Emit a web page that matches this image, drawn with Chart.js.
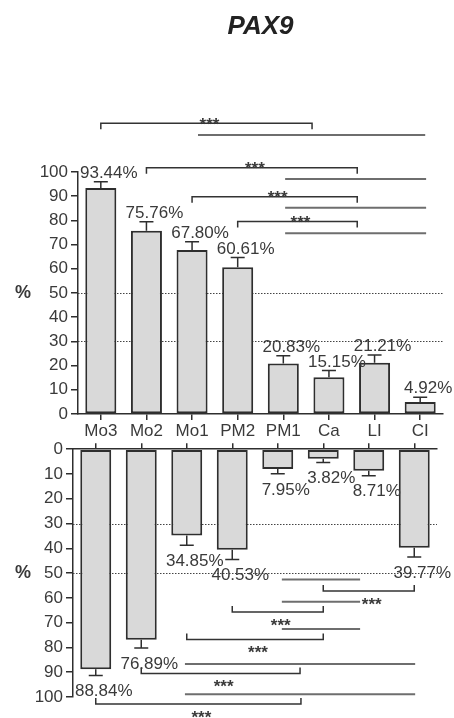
<!DOCTYPE html>
<html>
<head>
<meta charset="utf-8">
<script src="https://cdn.jsdelivr.net/npm/chart.js@4.4.1/dist/chart.umd.min.js"></script>
<style>
  body { margin: 0; background: #fff; }
  .wrap { position: relative; width: 454px; height: 718px; }
  #topChart { position: absolute; left: 0; top: 0; }
  #bottomChart { position: absolute; left: 0; top: 436px; }
</style>
</head>
<body>
<div class="wrap">
  <canvas id="topChart" width="454" height="440"></canvas>
  <canvas id="bottomChart" width="454" height="282"></canvas>
</div>
<script>
// data
const categories = ["Mo3", "Mo2", "Mo1", "PM2", "PM1", "Ca", "LI", "CI"];
const yTicks = [0, 10, 20, 30, 40, 50, 60, 70, 80, 90, 100];

const topValues = [93.44, 75.76, 67.80, 60.61, 20.83, 15.15, 21.21, 4.92];
const topErrors = [2.5, 3.7, 3.4, 4.1, 3.2, 2.8, 3.2, 2.0];
const bottomValues = [88.84, 76.89, 34.85, 40.53, 7.95, 3.82, 8.71, 39.77];
const bottomErrors = [2.5, 3.3, 3.9, 4.0, 2.0, 1.5, 2.0, 3.7];

// significance brackets: category index from / to, level in %
const topSigFrom = [0, 1, 2, 3];
const topSigTo = [4.63, 5.62, 5.62, 5.62];
const topSigY = [120.1, 101.8, 89.8, 79.5];
const topGroupFrom = [2.13, 4.04, 4.04, 4.04];
const topGroupTo = [7.11, 7.13, 7.13, 7.13];
const topGroupY = [115.3, 97.1, 85.2, 74.7];

const bottomSigFrom = [5, 3, 2, 1, 0];
const bottomSigTo = [7, 5, 5, 4.49, 4.51];
const bottomSigY = [57.2, 65.7, 76.8, 90.5, 102.8];
const bottomGroupFrom = [4.09, 4.09, 4.09, 1.96, 1.96];
const bottomGroupTo = [5.81, 5.81, 5.81, 7.02, 7.02];
const bottomGroupY = [52.6, 61.6, 72.6, 86.7, 98.9];

const dottedLevels = [30, 50];

const FONT = "'Liberation Sans', Arial, sans-serif";
const TEXT = "#3a3a3a";
const AXIS = "#2e2e2e";

function makeDecor(values, errors, sig, groups, flip) {
    return {
        id: "decor",
        beforeDatasetsDraw(chart) {
            const { ctx, chartArea, scales } = chart;
            ctx.save();
            ctx.strokeStyle = "#444";
            ctx.lineWidth = 1;
            ctx.setLineDash([1.5, 1.5]);
            dottedLevels.forEach((lv) => {
                const y = Math.round(scales.y.getPixelForValue(lv)) + 0.5;
                ctx.beginPath();
                ctx.moveTo(chartArea.left, y);
                ctx.lineTo(chartArea.right, y);
                ctx.stroke();
            });
            ctx.restore();
        },
        afterDatasetsDraw(chart) {
            const { ctx, scales } = chart;
            const x = scales.x, y = scales.y;
            ctx.save();

            // error bars, one-sided
            ctx.strokeStyle = AXIS;
            ctx.lineWidth = 1.5;
            values.forEach((v, i) => {
                const cx = x.getPixelForValue(i);
                const y0 = y.getPixelForValue(v);
                const y1 = y.getPixelForValue(v + errors[i]);
                ctx.beginPath();
                ctx.moveTo(cx, y0);
                ctx.lineTo(cx, y1);
                ctx.moveTo(cx - 7, y1);
                ctx.lineTo(cx + 7, y1);
                ctx.stroke();
            });

            // value labels
            ctx.fillStyle = TEXT;
            ctx.font = "17px " + FONT;
            ctx.textAlign = "center";
            ctx.textBaseline = "middle";
            values.forEach((v, i) => {
                const cx = x.getPixelForValue(i) + 8;
                const y1 = y.getPixelForValue(v + errors[i]);
                ctx.fillText(v.toFixed(2) + "%", cx, flip ? y1 + 16 : y1 - 8.5);
            });

            // "%" axis title at mid scale
            ctx.font = "bold 18px " + FONT;
            ctx.fillText("%", 23, y.getPixelForValue(50));

            // group lines
            ctx.strokeStyle = "#6e6e6e";
            ctx.lineWidth = 2;
            groups.from.forEach((f, k) => {
                const yy = y.getPixelForValue(groups.y[k]);
                ctx.beginPath();
                ctx.moveTo(x.getPixelForValue(f), yy);
                ctx.lineTo(x.getPixelForValue(groups.to[k]), yy);
                ctx.stroke();
            });

            // brackets with stars
            ctx.strokeStyle = "#333";
            ctx.lineWidth = 1.5;
            ctx.font = "bold 17px " + FONT;
            sig.from.forEach((f, k) => {
                const yy = y.getPixelForValue(sig.y[k]);
                const xa = x.getPixelForValue(f);
                const xb = x.getPixelForValue(sig.to[k]);
                const tick = flip ? -6 : 6;
                ctx.beginPath();
                ctx.moveTo(xa, yy + tick);
                ctx.lineTo(xa, yy);
                ctx.lineTo(xb, yy);
                ctx.lineTo(xb, yy + tick);
                ctx.stroke();
                ctx.fillText("***", (xa + xb) / 2 + 3, flip ? yy + 14 : yy + 2);
            });
            ctx.restore();
        }
    };
}

function makeChart(id, values, opts) {
    return new Chart(document.getElementById(id), {
        type: "bar",
        data: {
            labels: categories,
            datasets: [{
                data: values,
                backgroundColor: "#d9d9d9",
                borderColor: AXIS,
                borderWidth: 2,
                borderSkipped: false,
                barPercentage: 0.68,
                categoryPercentage: 1
            }]
        },
        options: {
            responsive: false,
            animation: false,
            layout: { padding: opts.padding },
            plugins: {
                legend: { display: false },
                tooltip: { enabled: false },
                title: opts.title
            },
            scales: {
                x: {
                    position: opts.xPos,
                    offset: true,
                    grid: { offset: false, drawOnChartArea: false, tickLength: 6, color: AXIS, lineWidth: 1.5 },
                    border: { display: true, color: AXIS, width: 1.5 },
                    ticks: { display: opts.xLabels, color: TEXT, font: { family: FONT, size: 17 }, padding: 1, maxRotation: 0 },
                    afterFit: (s) => { s.height = opts.xHeight; }
                },
                y: {
                    min: 0,
                    max: 100,
                    reverse: opts.reverse,
                    afterBuildTicks: (s) => { s.ticks = yTicks.map((v) => ({ value: v })); },
                    grid: { drawOnChartArea: false, tickLength: 7, color: AXIS, lineWidth: 1.5 },
                    border: { display: true, color: AXIS, width: 1.5 },
                    ticks: { color: TEXT, font: { family: FONT, size: 17 }, padding: 3 },
                    afterFit: (s) => { s.width = opts.yWidth; }
                }
            }
        },
        plugins: [opts.decor]
    });
}

makeChart("topChart", topValues, {
    padding: { left: 0, right: 11, top: 0, bottom: 0 },
    title: {
        display: true,
        text: "PAX9",
        fullSize: false,
        color: "#222",
        font: { family: FONT, size: 26, weight: "bold", style: "italic" },
        padding: { top: 11, bottom: 129.8 }
    },
    xPos: "bottom",
    xLabels: true,
    xHeight: 26,
    yWidth: 78,
    reverse: false,
    decor: makeDecor(topValues, topErrors,
        { from: topSigFrom, to: topSigTo, y: topSigY },
        { from: topGroupFrom, to: topGroupTo, y: topGroupY }, false)
});

makeChart("bottomChart", bottomValues, {
    padding: { left: 0, right: 17, top: 0, bottom: 21 },
    title: { display: false },
    xPos: "top",
    xLabels: false,
    xHeight: 12.5,
    yWidth: 73,
    reverse: true,
    decor: makeDecor(bottomValues, bottomErrors,
        { from: bottomSigFrom, to: bottomSigTo, y: bottomSigY },
        { from: bottomGroupFrom, to: bottomGroupTo, y: bottomGroupY }, true)
});
</script>
</body>
</html>
